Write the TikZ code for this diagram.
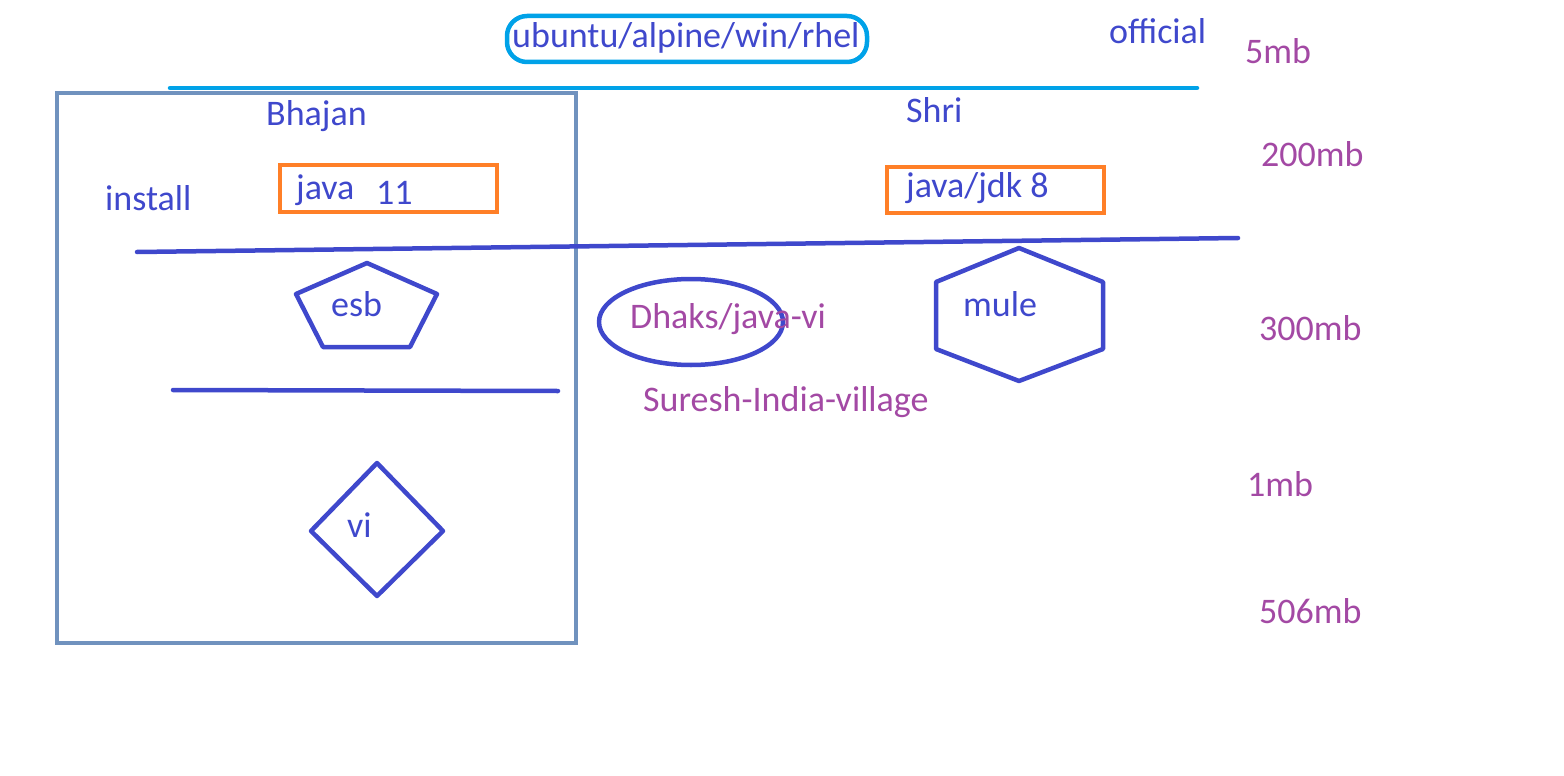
\documentclass[tikz,border=0pt]{standalone}
\usepackage{fontspec}
\setmainfont{Carlito}
\definecolor{ink}{HTML}{3F48CC}
\definecolor{plum}{HTML}{A349A4}
\definecolor{orng}{HTML}{FF7F27}
\definecolor{sky}{HTML}{00A2E8}
\definecolor{steel}{HTML}{7092BE}
\tikzset{
  txt/.style={anchor=base west, inner sep=0pt, font=\fontsize{36}{40}\selectfont, text=ink},
  mbtxt/.style={txt, text=plum},
  pen/.style={draw=ink, line width=4.5pt, line join=round, line cap=round},
  obox/.style={draw=orng, line width=4.5pt},
}
\begin{document}
\begin{tikzpicture}[x=1pt,y=-1pt]
\useasboundingbox (0,0) rectangle (1564,776);
% top
\draw[sky, line width=4.5pt, rounded corners=20pt] (507,16) rectangle (867,62);
\node[txt] (os) at (512,48) {ubuntu/alpine/win/rhel};
\node[txt] (official) at (1109,44) {official};
\coordinate (t1) at (170,88);
\coordinate (t2) at (1197,88);
\draw[sky, line width=4.5pt, line cap=round] (t1) -- (t2);
% mb column
\node[mbtxt] (mb5) at (1245,64) {5mb};
\node[mbtxt] (mb200) at (1261,166) {200mb};
\node[mbtxt] (mb300) at (1259,340) {300mb};
\node[mbtxt] (mb1) at (1247,496) {1mb};
\node[mbtxt] (mb506) at (1259,623) {506mb};
% left box
\draw[steel, line width=4.5pt] (57,93) rectangle (576,643);
\node[txt] (bhajan) at (266,125) {Bhajan};
\node[txt] (install) at (105,210) {install};
\draw[obox] (280,165) rectangle (497,212);
\node[txt] (java) at (296,199) {java};
\node[txt] (eleven) at (376,204) {11};
% right
\node[txt] (shri) at (906,122) {Shri};
\draw[obox] (887,167) rectangle (1104,213);
\node[txt] (jdk) at (906,197) {java/jdk 8};
% lines
\coordinate (l1) at (137,252);
\coordinate (l2) at (1238,238);
\draw[pen] (l1) -- (l2);
\coordinate (m1) at (173,390);
\coordinate (m2) at (558,391);
\draw[pen] (m1) -- (m2);
% pentagon
\draw[pen] (367,263) -- (437,294) -- (410,347) -- (323,347) -- (296,294) -- cycle;
\node[txt] (esb) at (331,316) {esb};
% ellipse
\draw[pen] (691,322) ellipse [x radius=92, y radius=43];
\node[mbtxt] (dhaks) at (630,328) {Dhaks/java-vi};
\node[mbtxt] (suresh) at (643,411) {Suresh-India-village};
% hexagon
\draw[pen] (1019,248) -- (1103,282) -- (1103,349) -- (1019,381) -- (936,349) -- (936,282) -- cycle;
\node[txt] (mule) at (963,316) {mule};
% diamond
\draw[pen] (377,463) -- (443,531) -- (377,596) -- (311,531) -- cycle;
\node[txt] (vi) at (347,537) {vi};
\end{tikzpicture}
\end{document}
